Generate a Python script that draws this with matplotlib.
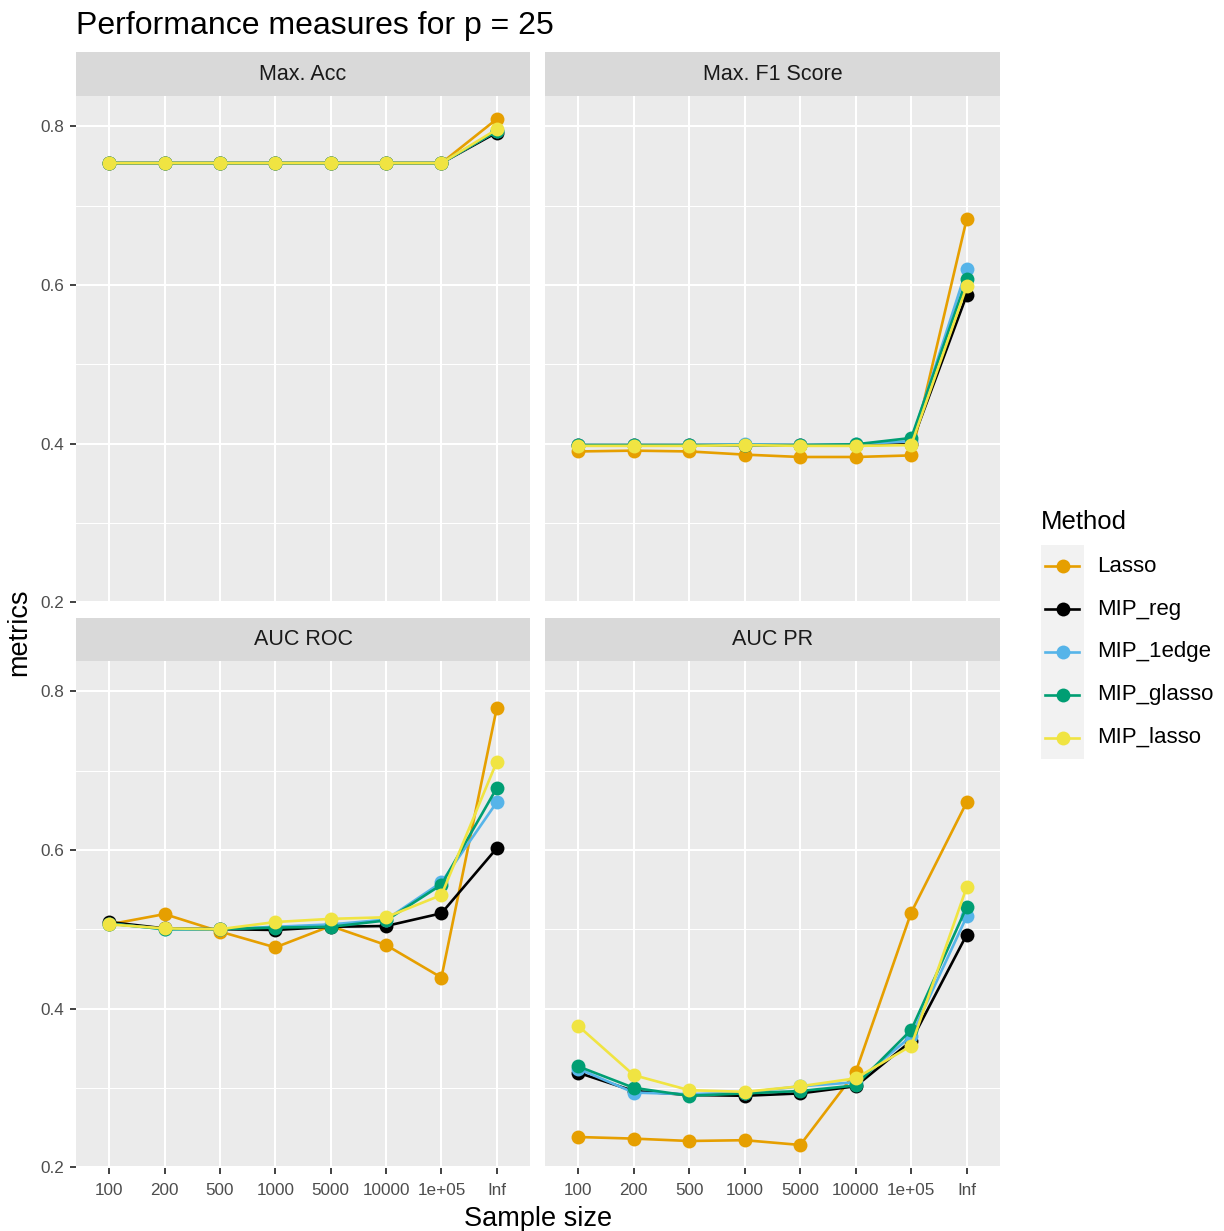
import numpy as np
import matplotlib
matplotlib.use("Agg")
import matplotlib.pyplot as plt

plt.rcParams["font.family"] = ["Liberation Sans", "DejaVu Sans"]

# sample sizes (discrete x) and methods
sizes = ["100", "200", "500", "1000", "5000", "10000", "1e+05", "Inf"]
methods = ["Lasso", "MIP_reg", "MIP_1edge", "MIP_glasso", "MIP_lasso"]
colors = ["#E69F00", "#000000", "#56B4E9", "#009E73", "#F0E442"]

# values, one list per method
max_acc = {
    "Lasso":      [0.7535, 0.7535, 0.7535, 0.7535, 0.7535, 0.7535, 0.7535, 0.809],
    "MIP_reg":    [0.7535, 0.7535, 0.7535, 0.7535, 0.7535, 0.7535, 0.7535, 0.792],
    "MIP_1edge":  [0.7535, 0.7535, 0.7535, 0.7535, 0.7535, 0.7535, 0.7535, 0.794],
    "MIP_glasso": [0.7535, 0.7535, 0.7535, 0.7535, 0.7535, 0.7535, 0.7535, 0.794],
    "MIP_lasso":  [0.7535, 0.7535, 0.7535, 0.7535, 0.7535, 0.7535, 0.7535, 0.796],
}
max_f1 = {
    "Lasso":      [0.390, 0.391, 0.390, 0.386, 0.383, 0.383, 0.385, 0.683],
    "MIP_reg":    [0.398, 0.398, 0.398, 0.398, 0.398, 0.398, 0.399, 0.587],
    "MIP_1edge":  [0.398, 0.398, 0.398, 0.399, 0.398, 0.399, 0.403, 0.620],
    "MIP_glasso": [0.398, 0.398, 0.398, 0.398, 0.398, 0.399, 0.407, 0.607],
    "MIP_lasso":  [0.397, 0.397, 0.397, 0.398, 0.397, 0.397, 0.398, 0.598],
}
auc_roc = {
    "Lasso":      [0.506, 0.519, 0.497, 0.477, 0.504, 0.480, 0.439, 0.779],
    "MIP_reg":    [0.509, 0.501, 0.500, 0.499, 0.503, 0.504, 0.520, 0.602],
    "MIP_1edge":  [0.507, 0.500, 0.500, 0.503, 0.506, 0.512, 0.559, 0.660],
    "MIP_glasso": [0.507, 0.500, 0.500, 0.502, 0.503, 0.511, 0.556, 0.678],
    "MIP_lasso":  [0.506, 0.501, 0.500, 0.509, 0.513, 0.515, 0.543, 0.711],
}
auc_pr = {
    "Lasso":      [0.238, 0.236, 0.233, 0.234, 0.228, 0.320, 0.521, 0.660],
    "MIP_reg":    [0.319, 0.296, 0.291, 0.290, 0.293, 0.302, 0.359, 0.493],
    "MIP_1edge":  [0.324, 0.294, 0.292, 0.294, 0.302, 0.307, 0.365, 0.516],
    "MIP_glasso": [0.327, 0.300, 0.290, 0.293, 0.296, 0.303, 0.373, 0.528],
    "MIP_lasso":  [0.378, 0.316, 0.297, 0.295, 0.302, 0.312, 0.353, 0.553],
}
panels = [("Max. Acc", max_acc), ("Max. F1 Score", max_f1),
          ("AUC ROC", auc_roc), ("AUC PR", auc_pr)]

W, H = 1224, 1231


def box(x0, y0, x1, y1):
    # pixel box (top-left origin) -> figure fraction rect
    return [x0 / W, 1 - y1 / H, (x1 - x0) / W, (y1 - y0) / H]


# shared y range like ggplot (5% expansion)
allv = np.concatenate([np.array(list(d.values())).ravel() for _, d in panels])
lo, hi = allv.min(), allv.max()
pad = (hi - lo) * 0.05
ylim = (lo - pad, hi + pad)

fig = plt.figure(figsize=(W / 100, H / 100), dpi=100)

col_x = [(76, 530), (545, 1000)]
row_y = [(96, 603), (661, 1168)]
strip_y = [(52, 96), (618, 661)]
x = np.arange(len(sizes))

for k, (name, data) in enumerate(panels):
    r, c = divmod(k, 2)
    x0, x1 = col_x[c]
    y0, y1 = row_y[r]
    ax = fig.add_axes(box(x0, y0, x1, y1))
    ax.set_facecolor("#EBEBEB")
    for s in ax.spines.values():
        s.set_visible(False)
    ax.set_xlim(-0.6, len(sizes) - 0.4)
    ax.set_ylim(*ylim)
    ax.set_xticks(x)
    ax.set_xticklabels(sizes)
    ax.set_yticks([0.2, 0.4, 0.6, 0.8])
    ax.set_yticklabels(["0.2", "0.4", "0.6", "0.8"])
    ax.set_yticks([0.3, 0.5, 0.7], minor=True)
    ax.grid(which="major", color="white", lw=1.5)
    ax.grid(which="minor", axis="y", color="white", lw=0.75)
    ax.set_axisbelow(True)
    ax.tick_params(which="major", length=4.3, width=1.3, color="#333333",
                   labelsize=12.3, labelcolor="#4D4D4D", pad=4)
    ax.tick_params(axis="x", pad=6.5)
    ax.tick_params(which="minor", length=0)
    if r == 0:
        ax.tick_params(axis="x", length=0, labelbottom=False)
    if c == 1:
        ax.tick_params(axis="y", length=0, labelleft=False)

    for m, col in zip(methods, colors):
        ax.plot(x, data[m], color=col, lw=1.9, marker="o", ms=10, mew=0,
                solid_joinstyle="round")

    # facet strip
    s0, s1 = strip_y[r]
    sax = fig.add_axes(box(x0, s0, x1, s1))
    sax.set_facecolor("#D9D9D9")
    sax.set_xticks([])
    sax.set_yticks([])
    for s in sax.spines.values():
        s.set_visible(False)
    sax.text(0.5, 0.5, name, ha="center", va="center", fontsize=15.5,
             color="#1A1A1A", transform=sax.transAxes)

# titles
fig.text(76 / W, 1 - 34 / H, "Performance measures for p = 25", fontsize=23,
         va="baseline", ha="left")
fig.text(538 / W, 1 - 1226 / H, "Sample size", fontsize=19.5,
         va="baseline", ha="center")
fig.text(19 / W, 1 - 632 / H, "metrics", fontsize=19.5, rotation=90,
         va="center", ha="center")

# legend drawn by hand (ggplot-like keys)
fig.text(1041 / W, 1 - 529 / H, "Method", fontsize=18.5, va="baseline", ha="left")
lax = fig.add_axes(box(1041, 545, 1084, 759))
lax.set_facecolor("#F2F2F2")
lax.set_xticks([])
lax.set_yticks([])
for s in lax.spines.values():
    s.set_visible(False)
lax.set_xlim(0, 1)
lax.set_ylim(len(methods) - 0.5, -0.5)
for i, (m, col) in enumerate(zip(methods, colors)):
    lax.plot([0.09, 0.89], [i, i], color=col, lw=1.9)
    lax.plot([0.5], [i], color=col, marker="o", ms=10, mew=0)
    lax.text(1.3, i, m, fontsize=16, va="center", ha="left", clip_on=False)

fig.savefig("out.png", dpi=100)
